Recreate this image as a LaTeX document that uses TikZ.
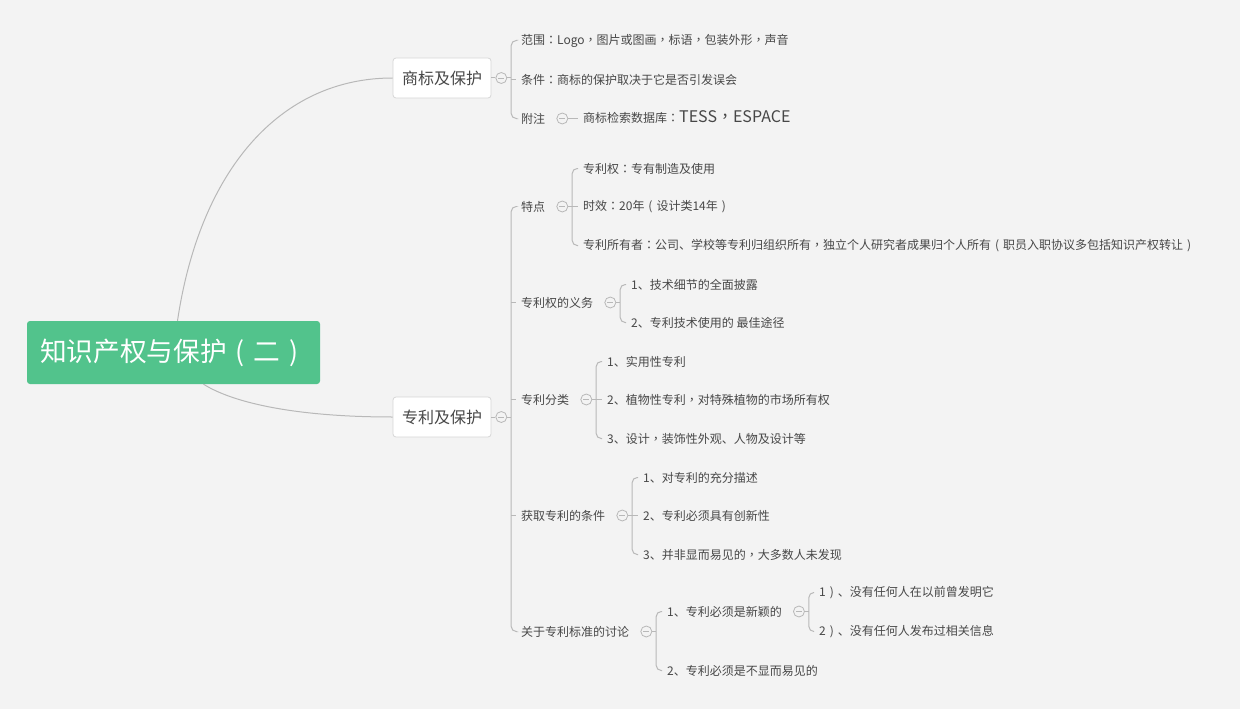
\documentclass[tikz,border=0pt]{standalone}
\usepackage{fontspec}
\setmainfont{Noto Sans CJK SC}
\newfontfamily\tcfont{Noto Sans CJK TC}
\newcommand\tcc{{\tcfont ：}}
\newcommand\tck{{\tcfont ，}}
\newcommand\tcl{\makebox[1em][c]{(}}
\newcommand\tcr{\makebox[1em][c]{)}}
\usetikzlibrary{positioning}
\definecolor{bg}{HTML}{F3F3F3}
\definecolor{ln}{HTML}{B8B8B8}
\definecolor{boxb}{HTML}{D6D6D6}
\definecolor{txt}{HTML}{474747}
\definecolor{grn}{HTML}{52C38C}
\newcommand\brk[4]{%
  \draw[conn] (#1.east) -- (#2);
  \draw[conn, rounded corners=5pt] (#3.west) -| (#2) |- (#4.west);}
\newcommand\midtick[2]{\draw[conn] (#1 |- #2.west) -- (#2.west);}
\begin{document}
\begin{tikzpicture}[x=1pt,y=-1pt,
  rootbox/.style={fill=grn, rounded corners=3pt, minimum width=293pt, minimum height=63pt, inner sep=0pt, text=white, font=\fontsize{26.7}{30}\selectfont},
  mainbox/.style={draw=boxb, fill=white, line width=0.8pt, rounded corners=3pt, minimum width=98pt, minimum height=40pt, inner sep=0pt, text=txt, font=\fontsize{16}{19}\selectfont},
  leaftxt/.style={anchor=west, inner xsep=5pt, inner ysep=2pt, yshift=-1.5pt, text=txt, font=\fontsize{12}{14}\selectfont},
  colc/.style={circle, draw=ln, fill=bg, line width=0.8pt, minimum size=11pt, inner sep=0pt,
    path picture={\draw[ln, line width=0.8pt] ([xshift=2.5pt]path picture bounding box.west) -- ([xshift=-2.5pt]path picture bounding box.east);}},
  conn/.style={draw=ln, line width=1pt}]
\fill[bg] (0,0) rectangle (1240,709);
\useasboundingbox (0,0) rectangle (1240,709);

% root and main topics
\node[rootbox] (root) at (173.5,352.5) {知识产权与保护\tcl 二\tcr\hspace{5pt}};
\node[mainbox] (tm) at (442,78) {商标及保护};
\node[mainbox] (pt) at (442,417) {专利及保护};
\draw[conn] ([xshift=4pt]root.north) .. controls (200,170) and (280,78) .. (tm.west);
\draw[conn] ([xshift=30pt]root.south) .. controls (235,404) and (300,417) .. (pt.west);

% trademark branch
\node[colc, right=4pt of tm] (ctm) {};
\draw[conn] (tm.east) -- (ctm.west);
\coordinate (jtm) at ([xshift=4pt]ctm.east);
\node[leaftxt] (s1) at (516,39) {范围\tcc Logo\tck 图片或图画\tck 标语\tck 包装外形\tck 声音};
\node[leaftxt] (s2) at (516,78) {条件\tcc 商标的保护取决于它是否引发误会};
\node[leaftxt] (s3) at (516,117) {附注};
\brk{ctm}{jtm}{s1}{s3}
\midtick{jtm}{s2}
\node[colc, right=6pt of s3] (cs3) {};
\node[leaftxt] (s31) at (578,116) {商标检索数据库\tcc{\fontsize{16}{19}\selectfont TESS\tck ESPACE}};
\draw[conn] (cs3.east) -- (cs3.east -| s31.west);

% patent branch
\node[colc, right=4pt of pt] (cpt) {};
\draw[conn] (pt.east) -- (cpt.west);
\coordinate (jpt) at ([xshift=4pt]cpt.east);
\node[leaftxt] (p1) at (516,205) {特点};
\node[leaftxt] (p2) at (516,301) {专利权的义务};
\node[leaftxt] (p3) at (516,398) {专利分类};
\node[leaftxt] (p4) at (516,514) {获取专利的条件};
\node[leaftxt] (p5) at (516,630) {关于专利标准的讨论};
\brk{cpt}{jpt}{p1}{p5}
\midtick{jpt}{p2}
\midtick{jpt}{p3}
\midtick{jpt}{p4}

% 特点
\node[colc, right=6pt of p1] (cp1) {};
\coordinate (jp1) at ([xshift=4pt]cp1.east);
\node[leaftxt] (p11) at (578,167) {专利权\tcc 专有制造及使用};
\node[leaftxt] (p12) at (578,205) {时效\tcc 20年\tcl 设计类14年\tcr};
\node[leaftxt] (p13) at (578,244) {专利所有者\tcc 公司、学校等专利归组织所有\tck 独立个人研究者成果归个人所有\tcl 职员入职协议多包括知识产权转让\tcr};
\brk{cp1}{jp1}{p11}{p13}
\midtick{jp1}{p12}

% 专利权的义务
\node[colc, right=6pt of p2] (cp2) {};
\coordinate (jp2) at ([xshift=4pt]cp2.east);
\node[leaftxt] (p21) at (626,283) {1、技术细节的全面披露};
\node[leaftxt] (p22) at (626,321) {2、专利技术使用的 最佳途径};
\brk{cp2}{jp2}{p21}{p22}

% 专利分类
\node[colc, right=6pt of p3] (cp3) {};
\coordinate (jp3) at ([xshift=4pt]cp3.east);
\node[leaftxt] (p31) at (602,360) {1、实用性专利};
\node[leaftxt] (p32) at (602,398) {2、植物性专利\tck 对特殊植物的市场所有权};
\node[leaftxt] (p33) at (602,437) {3、设计\tck 装饰性外观、人物及设计等};
\brk{cp3}{jp3}{p31}{p33}
\midtick{jp3}{p32}

% 获取专利的条件
\node[colc, right=6pt of p4] (cp4) {};
\coordinate (jp4) at ([xshift=4pt]cp4.east);
\node[leaftxt] (p41) at (638,476) {1、对专利的充分描述};
\node[leaftxt] (p42) at (638,514) {2、专利必须具有创新性};
\node[leaftxt] (p43) at (638,553) {3、并非显而易见的\tck 大多数人未发现};
\brk{cp4}{jp4}{p41}{p43}
\midtick{jp4}{p42}

% 关于专利标准的讨论
\node[colc, right=6pt of p5] (cp5) {};
\coordinate (jp5) at ([xshift=4pt]cp5.east);
\node[leaftxt] (p51) at (662,610) {1、专利必须是新颖的};
\node[leaftxt] (p52) at (662,669) {2、专利必须是不显而易见的};
\brk{cp5}{jp5}{p51}{p52}

% 新颖
\node[colc, right=6pt of p51] (cp51) {};
\coordinate (jp51) at ([xshift=4pt]cp51.east);
\node[leaftxt] (p511) at (814,591) {1\tcr 、没有任何人在以前曾发明它};
\node[leaftxt] (p512) at (814,630) {2\tcr 、没有任何人发布过相关信息};
\brk{cp51}{jp51}{p511}{p512}
\end{tikzpicture}
\end{document}
